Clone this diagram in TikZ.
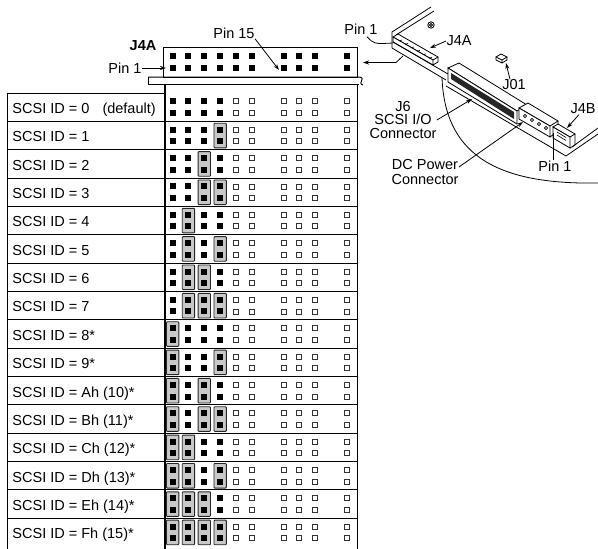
\documentclass[tikz,border=0pt]{standalone}
\usepackage{fontspec}
\setmainfont{Liberation Sans}
\usetikzlibrary{arrows.meta}
\definecolor{jumpgray}{RGB}{200,200,200}

\tikzset{
  pinon/.style={fill=black},
  pinoff/.style={draw=black!80, line width=0.9pt, fill=white},
  jumper/.style={draw=black!85, line width=0.9pt, fill=jumpgray, rounded corners=0.8pt},
  lbl/.style={font=\fontsize{14.5}{16}\selectfont, inner sep=0pt},
  ptr/.style={-{Stealth[length=6pt,width=4pt]}, line width=0.8pt},
  sketch/.style={line width=0.8pt},
}

\begin{document}
\begin{tikzpicture}[x=1pt,y=-1pt,line width=1pt]
\useasboundingbox (0,0) rectangle (598,549);

% Header J4A
\draw (163.5,47) rectangle (357.7,77);
\draw (148,77) -- (360,77) .. controls (366,79) and (357,83) .. (363,85);
\draw (148,77) -- (148,84.5) -- (359,84.5);
\foreach \c in {0,1,2,3,4,5,7,8,9,11} {
  \pgfmathsetmacro\px{172.6+15.85*\c}
  \fill[pinon] (\px-3,52.5) rectangle (\px+3,58.5);
  \fill[pinon] (\px-3,65) rectangle (\px+3,71);
}
\node[lbl, font=\bfseries\fontsize{14.5}{16}\selectfont] (hdr) at (143,45.5) {J4A};
\node[lbl, anchor=east] (pinone) at (142,68) {Pin 1};
\coordinate (pinoneend) at (166,68);
\draw[ptr] (pinone) -- (pinoneend);
\node[lbl] (pinfifteen) at (234,33) {Pin 15};
\coordinate (pinfifteenend) at (279,70);
\draw[ptr] (pinfifteen.south east) -- (pinfifteenend);

% Table frame
\draw (7,93) -- (164,93);
\draw (7,93) -- (7,549);
\draw (357.7,84.5) -- (357.7,549);

% Rows
\foreach \r/\txt in {0/{SCSI ID = 0\hspace{0.9em}(default)}, 1/{SCSI ID = 1},
    2/{SCSI ID = 2}, 3/{SCSI ID = 3}, 4/{SCSI ID = 4}, 5/{SCSI ID = 5},
    6/{SCSI ID = 6}, 7/{SCSI ID = 7}, 8/{SCSI ID = 8*}, 9/{SCSI ID = 9*},
    10/{SCSI ID = Ah (10)*}, 11/{SCSI ID = Bh (11)*}, 12/{SCSI ID = Ch (12)*},
    13/{SCSI ID = Dh (13)*}, 14/{SCSI ID = Eh (14)*}, 15/{SCSI ID = Fh (15)*}} {
  \pgfmathsetmacro\ry{93+28.35*\r}
  \pgfmathsetmacro\rc{\ry+14.2}
  \ifnum\r>0 \draw (7,\ry) -- (357.7,\ry); \fi
  \node[lbl, anchor=base west] (id\r) at (12,\ry+20.5) {\txt};
  % jumpers
  \foreach \c in {0,...,3} {
    \pgfmathsetmacro\px{172.6+15.85*\c}
    \pgfmathtruncatemacro\bit{mod(floor(\r/2^(3-\c)),2)}
    \ifnum\bit=1 \draw[jumper] (\px-6.2,\rc-12.3) rectangle (\px+6.2,\rc+12.3); \fi
    \fill[pinon] (\px-3,\rc-8.8) rectangle (\px+3,\rc-2.8);
    \fill[pinon] (\px-3,\rc+2.8) rectangle (\px+3,\rc+8.8);
  }
  \foreach \c in {4,5,7,8,9,11} {
    \pgfmathsetmacro\px{172.6+15.85*\c}
    \draw[pinoff] (\px-2.5,\rc-8.3) rectangle (\px+2.5,\rc-3.3);
    \draw[pinoff] (\px-2.5,\rc+3.3) rectangle (\px+2.5,\rc+8.3);
  }
}
\draw[line width=2pt] (164.5,84.5) -- (164.5,549);

% Drive board sketch
\begin{scope}[sketch]
  \draw (392,48) -- (392,32) -- (431,7);
  \draw (396,35) -- (434,11);
  \draw (431,25) circle[radius=3.2pt] (431,25) circle[radius=1.5pt];
  % J4A connector
  \draw[fill=white] (393,37) -- (398,34) -- (438,57) -- (433,60) -- cycle;
  \draw[fill=white] (393,37) -- (433,60) -- (433,65) -- (393,42) -- cycle;
  \draw (438,57) -- (438,62) -- (433,65);
  \foreach \k in {0,...,5}
    \draw[line width=0.6pt] (399+6*\k,41+3.45*\k) -- (402+6*\k,40+3.45*\k);
  % board edges
  \draw (393,42) -- (448,74);
  \draw (392,48) -- (446,80);
  \draw (446,86) -- (566,156);
  \draw (566,156) -- (598,134);
  \draw (572,147) -- (598,128);
  % J6 connector
  \draw[fill=white] (448,68) -- (459,63) -- (527,105) -- (517,111) -- cycle;
  \draw[fill=white] (448,68) -- (517,111) -- (517,124) -- (448,82) -- cycle;
  \fill[black!85] (451,73) -- (514,112) -- (514,119) -- (451,79) -- cycle;
  % DC power connector
  \draw[fill=white] (519,108) -- (528,103) -- (558,121) -- (550,126) -- cycle;
  \draw[fill=white] (519,108) -- (550,126) -- (550,137) -- (519,119) -- cycle;
  \draw (558,121) -- (558,131) -- (550,137);
  \foreach \k in {0,...,3}
    \draw[line width=0.6pt] (525+7*\k,116+4*\k) circle[radius=1.6pt];
  % J4B connector
  \draw[fill=white] (553,127) -- (558,124) -- (575,134) -- (570,137) -- cycle;
  \draw[fill=white] (553,127) -- (570,137) -- (570,148) -- (553,138) -- cycle;
  \draw (575,134) -- (575,145) -- (570,148);
  \draw[line width=0.6pt] (557,132) -- (566,137.5) (557,135) -- (566,140.5);
  % J01
  \draw[fill=white] (496,57) -- (501,54) -- (507,57) -- (502,60) -- cycle;
  \draw (496,57) -- (496,60) -- (502,63) -- (507,60) -- (507,57) (502,60) -- (502,63);
  % magnified area
  \draw (442,78) .. controls (445,150) and (490,185) .. (598,183);
\end{scope}

% Sketch labels
\node[lbl] (pinonetop) at (361,29) {Pin 1};
\coordinate (jfouraApin) at (393,43);
\draw[sketch] ([xshift=6pt,yshift=-2pt]pinonetop.south) .. controls (374,44) .. (jfouraApin);
\coordinate (jfouraAtail) at (403,56);
\coordinate (jfouraAhead) at (363,62.5);
\draw[ptr] (jfouraAtail) -- (396,62.5) -- (jfouraAhead);
\node[lbl] (jfouraR) at (459,41) {J4A};
\coordinate (jfouraRend) at (430,48);
\draw[ptr] (jfouraR.west) -- (jfouraRend);
\node[lbl] (jzero) at (514,85) {J01};
\coordinate (jzeroend) at (506,63);
\draw[ptr] ([xshift=-4pt]jzero.north) -- (jzeroend);
\node[lbl, align=center, font=\fontsize{14.5}{13.5}\selectfont] (jsix) at (403,120) {J6\\SCSI I/O\\Connector};
\coordinate (jsixend) at (472,99);
\draw[ptr] (jsix.east) -- (jsixend);
\node[lbl, align=center, font=\fontsize{14.5}{15}\selectfont] (dcpow) at (425,172) {DC Power\\Connector};
\coordinate (dcend) at (523,122);
\draw[ptr] ([yshift=5pt]dcpow.east) -- (dcend);
\node[lbl] (jfourb) at (583,109) {J4B};
\coordinate (jfourbend) at (567,128);
\draw[ptr] ([xshift=-4pt]jfourb.south) -- (jfourbend);
\node[lbl] (pinoneb) at (555,166) {Pin 1};
\coordinate (pinonebend) at (553,133);
\draw[sketch] ([xshift=-2pt]pinoneb.north) -- (pinonebend);
\end{tikzpicture}
\end{document}
